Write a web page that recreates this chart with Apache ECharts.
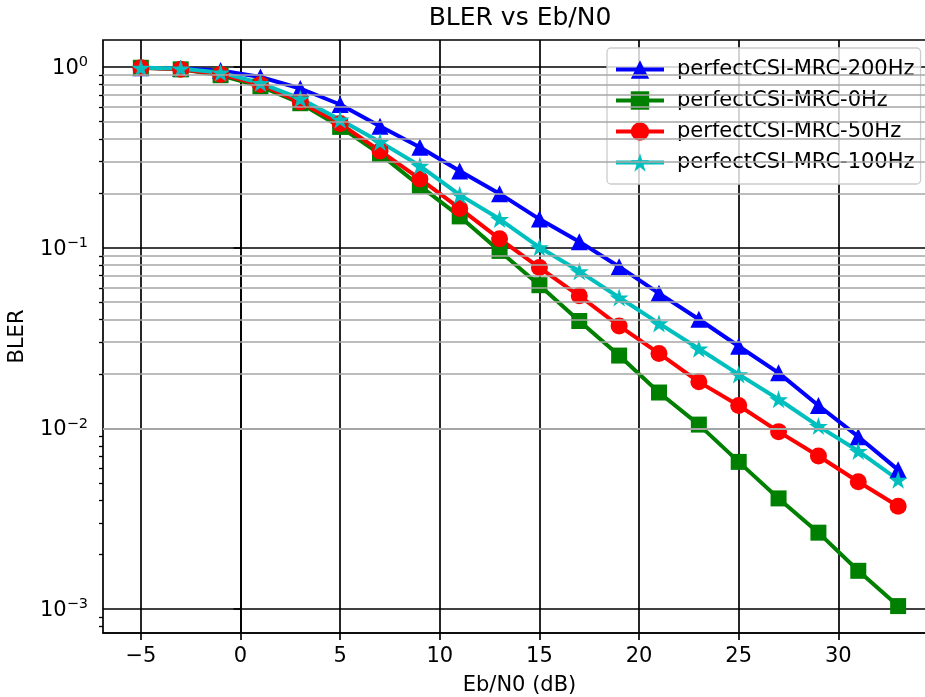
<!DOCTYPE html>
<html>
<head>
<meta charset="utf-8">
<script src="https://cdn.jsdelivr.net/npm/echarts@6/dist/echarts.min.js"></script>
<style>
  html, body { margin: 0; padding: 0; background: #ffffff; }
  #chart { width: 925px; height: 697px; }
</style>
</head>
<body>
<div id="chart"></div>
<script>
// Eb/N0 sweep (dB)
const ebN0 = [-5, -3, -1, 1, 3, 5, 7, 9, 11, 13, 15, 17, 19, 21, 23, 25, 27, 29, 31, 33];

// Block error rate per Doppler setting
const bler200Hz = [0.99, 0.98, 0.955, 0.88, 0.76, 0.62, 0.47, 0.36, 0.266, 0.199, 0.144, 0.108, 0.0785, 0.0559, 0.0402, 0.0285, 0.0203, 0.0134, 0.0090, 0.0059];
const bler0Hz   = [0.99, 0.97, 0.90, 0.78, 0.63, 0.466, 0.329, 0.22, 0.149, 0.096, 0.062, 0.0393, 0.0253, 0.0158, 0.0105, 0.00653, 0.0041, 0.00265, 0.00163, 0.00104];
const bler50Hz  = [0.99, 0.97, 0.91, 0.80, 0.64, 0.486, 0.343, 0.24, 0.165, 0.112, 0.0776, 0.0542, 0.0369, 0.026, 0.0181, 0.0134, 0.0096, 0.00704, 0.00507, 0.00371];
const bler100Hz = [0.99, 0.98, 0.93, 0.815, 0.668, 0.511, 0.385, 0.284, 0.196, 0.144, 0.1005, 0.074, 0.053, 0.0381, 0.0276, 0.0199, 0.0145, 0.0103, 0.0075, 0.0052];

const seriesNames = ['perfectCSI-MRC-200Hz', 'perfectCSI-MRC-0Hz', 'perfectCSI-MRC-50Hz', 'perfectCSI-MRC-100Hz'];

// Axis ticks
const xTicks = [-5, 0, 5, 10, 15, 20, 25, 30];
const yDecades = [0.001, 0.01, 0.1, 1];

const X_MIN = -6.9, X_MAX = 34.9;
const Y_MIN = 0.000738, Y_MAX = 1.41;

// minor log grid values (2..9 x 10^k) inside the y range
const yMinor = [];
for (let k = -4; k <= 0; k++) {
  for (let m = 2; m <= 9; m++) {
    const v = m * Math.pow(10, k);
    if (v > Y_MIN && v < Y_MAX) yMinor.push(+v.toPrecision(3));
  }
}

const FONT = 'DejaVu Sans';
const minus = s => String(s).replace('-', '\u2212');

// five-point star marker
const STAR = 'path://M100,0L122.45,69.1L195.1,69.1L136.33,111.8L158.8,180.9L100,138.2L41.2,180.9L63.67,111.8L4.9,69.1L77.55,69.1Z';

function pairs(ys) { return ebN0.map((x, i) => [x, ys[i]]); }

function lineSeries(name, ys, color, symbol, size) {
  return {
    name: name,
    type: 'line',
    data: pairs(ys),
    symbol: symbol,
    symbolSize: size,
    showSymbol: true,
    lineStyle: { color: color, width: 4 },
    itemStyle: { color: color },
    emphasis: { disabled: true },
    animation: false,
    z: 3
  };
}

const chart = echarts.init(document.getElementById('chart'), null, { renderer: 'canvas' });

const logAxisBase = {
  type: 'log',
  logBase: 10,
  min: Y_MIN, max: Y_MAX
};

chart.setOption({
  backgroundColor: '#ffffff',
  textStyle: { fontFamily: FONT },
  animation: false,
  title: {
    text: 'BLER vs Eb/N0',
    left: 520,
    textAlign: 'center',
    top: 6,
    padding: 0,
    textStyle: { fontFamily: FONT, fontSize: 25, fontWeight: 'normal', color: '#000' }
  },
  grid: {
    left: 103, top: 40, width: 833, height: 593,
    outerBoundsMode: 'none',
    containLabel: false,
    show: true, borderColor: '#000', borderWidth: 1.7, backgroundColor: 'transparent'
  },
  legend: {
    orient: 'vertical',
    left: 607, top: 48,
    data: seriesNames,
    itemWidth: 48, itemHeight: 23, itemGap: 10,
    padding: [11, 6, 11, 7],
    backgroundColor: 'rgba(255,255,255,0.8)',
    borderColor: '#cccccc', borderWidth: 1.3, borderRadius: 4,
    lineStyle: { width: 'inherit' },
    textStyle: { fontFamily: FONT, fontSize: 21, color: '#000', padding: [0, 0, 0, 8] },
    selectedMode: false
  },
  xAxis: {
    type: 'value',
    min: X_MIN, max: X_MAX,
    splitNumber: 8,
    name: 'Eb/N0 (dB)',
    nameLocation: 'middle',
    nameGap: 42,
    nameTextStyle: { fontFamily: FONT, fontSize: 21, color: '#000', verticalAlign: 'top' },
    axisLine: { show: true, onZero: false, lineStyle: { color: '#000', width: 1.7 } },
    axisTick: { show: true, customValues: xTicks, length: 7, lineStyle: { color: '#000', width: 1.7 } },
    axisLabel: {
      customValues: xTicks,
      margin: 13, fontFamily: FONT, fontSize: 21, color: '#000',
      formatter: v => minus(v)
    },
    splitLine: { show: true, lineStyle: { color: '#000', width: 1.7 } }
  },
  yAxis: [
    Object.assign({}, logAxisBase, {
      name: 'BLER',
      nameLocation: 'middle',
      nameGap: 75,
      nameTextStyle: { fontFamily: FONT, fontSize: 21, color: '#000' },
      axisLine: { show: true, lineStyle: { color: '#000', width: 1.7 } },
      axisTick: { show: true, customValues: yDecades, length: 7, lineStyle: { color: '#000', width: 1.7 } },
      axisLabel: {
        customValues: yDecades,
        margin: 15,
        formatter: v => '{b|10}{s|' + minus(Math.round(Math.log10(v))) + '}',
        rich: {
          b: { fontFamily: FONT, fontSize: 21, color: '#000', lineHeight: 24, verticalAlign: 'bottom' },
          s: { fontFamily: FONT, fontSize: 14.5, color: '#000', lineHeight: 15, verticalAlign: 'top' }
        }
      },
      splitLine: { show: true, lineStyle: { color: '#000', width: 1.7 } }
    }),
    // minor ticks on the left spine
    Object.assign({}, logAxisBase, {
      position: 'left',
      axisLine: { show: false },
      axisTick: { show: true, customValues: yMinor, length: 4, lineStyle: { color: '#000', width: 1.3 } },
      axisLabel: { show: false },
      splitLine: { show: false }
    })
  ],
  series: [
    {
      // minor log grid
      name: 'minor-grid',
      type: 'line',
      data: [],
      z: 1,
      silent: true,
      markLine: {
        silent: true,
        symbol: 'none',
        animation: false,
        label: { show: false },
        lineStyle: { color: '#a6a6a6', width: 1.7, type: 'solid' },
        data: yMinor.map(v => ({ yAxis: v }))
      }
    },
    lineSeries(seriesNames[0], bler200Hz, '#0000ff', 'triangle', 17),
    lineSeries(seriesNames[1], bler0Hz, '#008000', 'rect', 16),
    lineSeries(seriesNames[2], bler50Hz, '#ff0000', 'circle', 17),
    lineSeries(seriesNames[3], bler100Hz, '#00bfbf', STAR, [19, 18])
  ]
});
</script>
</body>
</html>
